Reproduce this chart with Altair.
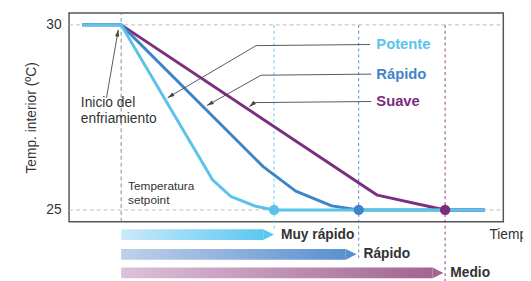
import altair as alt
import pandas as pd

# ---- data (time in arbitrary units 0..100, temperature in ºC) ----
series_names = ["Potente", "Rápido", "Suave"]
series_colors = ["#5bc3ea", "#3d85c6", "#7b2e7b"]

potente_t = [3, 12, 33.0, 37.2, 43.0, 47.2, 95.7]
potente_v = [30, 30, 25.82, 25.37, 25.10, 25, 25]
rapido_t = [3, 12, 44.7, 52.2, 60.5, 66.7, 95.7]
rapido_v = [30, 30, 26.17, 25.51, 25.11, 25, 25]
suave_t = [3, 12, 71.0, 86.6, 95.7]
suave_v = [30, 30, 25.40, 25, 25]

start_t = 12            # inicio del enfriamiento
setpoint = 25
reach_t = [47.2, 66.7, 86.6]   # time each mode reaches setpoint

speed_labels = ["Muy rápido", "Rápido", "Medio"]
speed_tip_t = [47.2, 66.2, 86.2]
speed_grad = [("#cbeaf9", "#5bc8f0"), ("#c0d0ea", "#5b90cf"), ("#dcc2d9", "#a36491")]

XD = [0, 100]
YD = [24.68, 30.32]
FONT = "Liberation Sans"

yaxis = alt.Axis(values=[25, 30], title="Temp. interior (ºC)", tickSize=0, domain=False,
                 grid=False, labelFontSize=14, labelPadding=8, labelColor="#333",
                 labelFont=FONT, titleFont=FONT, titleFontSize=14, titleFontWeight="normal",
                 titleColor="#333", titlePadding=8)

x = lambda f="t": alt.X(f"{f}:Q", scale=alt.Scale(domain=XD, nice=False, zero=False), axis=None)
yscale = alt.Scale(domain=YD, nice=False, zero=False)
y = lambda f="v": alt.Y(f"{f}:Q", scale=yscale, axis=yaxis)

layers = []

# horizontal reference dashed lines at 30 and 25
hl = pd.DataFrame({"t": [XD[0]] * 2, "t2": [XD[1]] * 2, "v": [30, setpoint]})
layers.append(alt.Chart(hl).mark_rule(color="#bdbdbd", strokeDash=[4, 3], strokeWidth=1)
              .encode(x=x(), x2="t2:Q", y=y()))

# vertical dashed start line
vs = pd.DataFrame({"t": [start_t], "v": [YD[0]], "v2": [YD[1]]})
layers.append(alt.Chart(vs).mark_rule(color="#8a8a8a", strokeDash=[4, 3], strokeWidth=1)
              .encode(x=x(), y=y(), y2="v2:Q"))

# colored vertical dashed lines at reach times
vbottom = [24.45, 23.70, 23.05]
for tt, vb, col in zip(reach_t, vbottom, series_colors):
    d = pd.DataFrame({"t": [tt], "v": [30], "v2": [vb]})
    layers.append(alt.Chart(d).mark_rule(color=col, strokeDash=[3, 3], strokeWidth=1, opacity=0.9)
                  .encode(x=x(), y=y(), y2="v2:Q"))

# cooling curves (Suave below, Potente on top)
curves = {"Potente": (potente_t, potente_v), "Rápido": (rapido_t, rapido_v), "Suave": (suave_t, suave_v)}
for name in ["Suave", "Rápido", "Potente"]:
    tt, vv = curves[name]
    col = series_colors[series_names.index(name)]
    d = pd.DataFrame({"t": tt, "v": vv, "o": range(len(tt))})
    layers.append(alt.Chart(d).mark_line(color=col, strokeWidth=3, strokeJoin="round")
                  .encode(x=x(), y=y(), order="o:Q"))

# points at setpoint
pts = pd.DataFrame({"t": reach_t, "v": [setpoint] * 3, "s": series_names})
layers.append(alt.Chart(pts).mark_point(filled=True, size=110, opacity=1)
              .encode(x=x(), y=y(),
                      color=alt.Color("s:N", scale=alt.Scale(domain=series_names, range=series_colors), legend=None)))

# series labels with leader lines
lab_v = [29.47, 28.67, 27.93]
lab_t = 70.75
leaders = [
    [(69.3, 29.47), (43.08, 29.44), (22.68, 28.03)],
    [(69.6, 28.67), (44.2, 28.64), (31.75, 27.82)],
    [(69.6, 27.93), (42.6, 27.90), (41.5, 27.79)],
    [(8.62, 28.03), (11.34, 29.87)],
]
head_angles = [239.5, 240.6, 231.3, 9.9]
rows = []
heads = []
for i, (seg, ang) in enumerate(zip(leaders, head_angles)):
    for j, (tt, vv) in enumerate(seg):
        rows.append({"g": i, "o": j, "t": tt, "v": vv})
    heads.append({"t": seg[-1][0], "v": seg[-1][1], "a": ang})
layers.append(alt.Chart(pd.DataFrame(rows)).mark_line(color="#444", strokeWidth=0.9)
              .encode(x=x(), y=y(), detail="g:N", order="o:Q"))
layers.append(alt.Chart(pd.DataFrame(heads)).mark_point(shape="M0,0L-0.6,2L0.6,2Z", filled=True,
                                                         size=49, color="#444", opacity=1)
              .encode(x=x(), y=y(), angle=alt.Angle("a:Q", scale=None)))

lab = pd.DataFrame({"t": [lab_t] * 3, "v": lab_v, "s": series_names})
layers.append(alt.Chart(lab).mark_text(align="left", baseline="middle", font=FONT, fontSize=15,
                                       fontWeight="bold")
              .encode(x=x(), y=y(), text="s:N",
                      color=alt.Color("s:N", scale=alt.Scale(domain=series_names, range=series_colors), legend=None)))

# other annotation text
notes = pd.DataFrame({
    "t": [2.72, 2.72, 13.6, 13.6, 96.8],
    "v": [27.90, 27.45, 25.64, 25.27, 24.31],
    "txt": ["Inicio del", "enfriamiento", "Temperatura", "setpoint", "Tiempo"],
    "fs": [14, 14, 12, 12, 14],
})
for fs in [14, 12]:
    d = notes[notes.fs == fs]
    layers.append(alt.Chart(d).mark_text(align="left", baseline="middle", font=FONT, fontSize=fs,
                                         color="#333")
                  .encode(x=x(), y=y(), text="txt:N"))

# speed arrows below the plot
row_v = [24.335, 23.80, 23.30]
half = 0.146
tip_len = 2.49
for lbl, tip, rv, (c0, c1) in zip(speed_labels, speed_tip_t, row_v, speed_grad):
    body = pd.DataFrame({"t": [start_t], "t2": [tip - tip_len], "v": [rv - half], "v2": [rv + half]})
    grad = alt.Gradient(gradient="linear", stops=[alt.GradientStop(color=c0, offset=0),
                                                  alt.GradientStop(color=c1, offset=1)],
                        x1=0, x2=1, y1=0, y2=0)
    layers.append(alt.Chart(body).mark_rect(color=grad)
                  .encode(x=x(), x2="t2:Q", y=y(), y2="v2:Q"))
    tipd = pd.DataFrame({"t": [tip - tip_len], "v": [rv]})
    layers.append(alt.Chart(tipd).mark_point(shape="M0,-1L2,0L0,1Z", filled=True, size=121,
                                             color=c1, opacity=1)
                  .encode(x=x(), y=y()))
    td = pd.DataFrame({"t": [tip + 1.6], "v": [rv], "txt": [lbl]})
    layers.append(alt.Chart(td).mark_text(align="left", baseline="middle", font=FONT, fontSize=14,
                                          fontWeight="bold", color="#333")
                  .encode(x=x(), y=y(), text="txt:N"))

chart = alt.layer(*layers).properties(
    width=441, height=212,
    autosize=alt.AutoSizeParams(type="none"),
    padding={"left": 62, "top": 3, "right": 20, "bottom": 58},
).configure_view(stroke="#555", strokeWidth=1.5)

chart.save("out.html", embed_options={"renderer": "svg", "actions": False})
